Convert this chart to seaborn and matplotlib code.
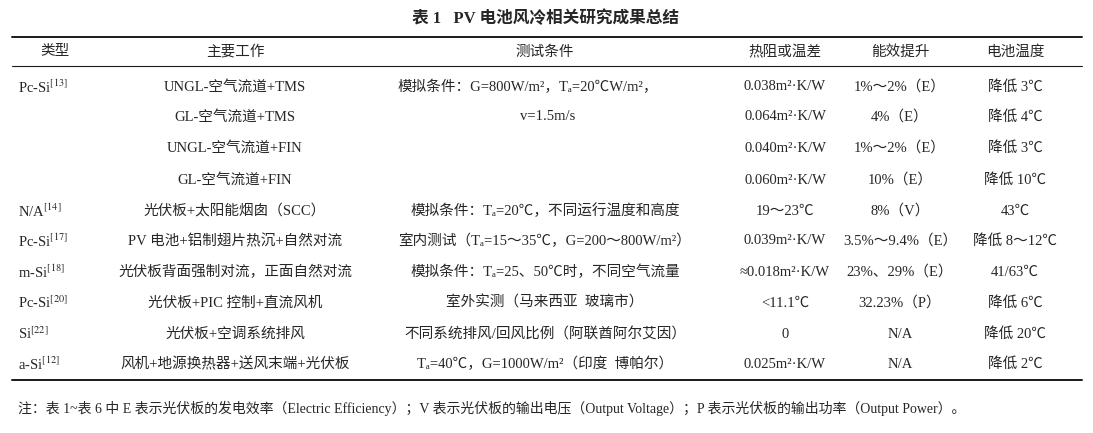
import matplotlib
matplotlib.use("Agg")
import matplotlib.pyplot as plt
import seaborn as sns

sns.set_theme(style="white")
plt.rcParams['font.family'] = ['Liberation Serif', 'Noto Sans CJK SC', 'DejaVu Sans']
plt.rcParams['mathtext.fontset'] = 'stix'

title = "表 1   PV 电池风冷相关研究成果总结"
headers = ["类型", "主要工作", "测试条件", "热阻或温差", "能效提升", "电池温度"]
types = ["Pc-Si$^{[13]}$", "", "", "", "N/A$^{[14]}$", "Pc-Si$^{[17]}$", "m-Si$^{[18]}$",
         "Pc-Si$^{[20]}$", "Si$^{[22]}$", "a-Si$^{[12]}$"]
works = ["UNGL-空气流道+TMS", "GL-空气流道+TMS", "UNGL-空气流道+FIN", "GL-空气流道+FIN",
         "光伏板+太阳能烟囱（SCC）", "PV 电池+铝制翅片热沉+自然对流", "光伏板背面强制对流，正面自然对流",
         "光伏板+PIC 控制+直流风机", "光伏板+空调系统排风", "风机+地源换热器+送风末端+光伏板"]
conds = ["模拟条件：G=800W/m²，Tₐ=20℃W/m²，", "v=1.5m/s", "", "",
         "模拟条件：Tₐ=20℃，不同运行温度和高度",
         "室内测试（Tₐ=15～35℃，G=200～800W/m²）",
         "模拟条件：Tₐ=25、50℃时，不同空气流量",
         "室外实测（马来西亚  玻璃市）", "不同系统排风/回风比例（阿联酋阿尔艾因）",
         "Tₐ=40℃，G=1000W/m²（印度  博帕尔）"]
resist = ["0.038m²·K/W", "0.064m²·K/W", "0.040m²·K/W", "0.060m²·K/W", "19～23℃",
          "0.039m²·K/W", "≈0.018m²·K/W", "<11.1℃", "0", "0.025m²·K/W"]
effic = ["1%～2%（E）", "4%（E）", "1%～2%（E）", "10%（E）", "8%（V）",
         "3.5%～9.4%（E）", "23%、29%（E）", "32.23%（P）", "N/A", "N/A"]
temps = ["降低 3℃", "降低 4℃", "降低 3℃", "降低 10℃", "43℃", "降低 8～12℃", "41/63℃",
         "降低 6℃", "降低 20℃", "降低 2℃"]
note = ("注：表 1~表 6 中 E 表示光伏板的发电效率（Electric Efficiency）；V 表示光伏板的输出电压（Output Voltage）；"
        "P 表示光伏板的输出功率（Output Power）。")

W, H = 1093, 433
fig = plt.figure(figsize=(W/100, H/100), dpi=100)
ax = fig.add_axes([0, 0, 1, 1])
ax.set_xlim(0, W); ax.set_ylim(H, 0); ax.axis('off')
fs = 10.5

ax.text(546, 19, title, ha='center', va='center', fontsize=12, fontweight='bold')
ax.plot([12, 1082], [37, 37], color='k', lw=1.4)
ax.plot([12, 1082], [66, 66], color='k', lw=0.8)
ax.plot([12, 1082], [380, 380], color='k', lw=1.4)

cx = [55, 235, 545, 785, 900, 1015]
for x, h in zip(cx, headers):
    ax.text(x, 52, h, ha='center', va='center', fontsize=fs)

ys = [87, 117, 148, 180, 211, 241, 272, 303, 334, 364]
for i, y in enumerate(ys):
    ax.text(18, y, types[i], ha='left', va='center', fontsize=fs)
    ax.text(cx[1], y, works[i], ha='center', va='center', fontsize=fs)
    if i == 0:
        ax.text(398, y, conds[i], ha='left', va='center', fontsize=fs)
    elif i == 1:
        ax.text(520, y, conds[i], ha='left', va='center', fontsize=fs)
    else:
        ax.text(cx[2], y, conds[i], ha='center', va='center', fontsize=fs)
    ax.text(cx[3], y, resist[i], ha='center', va='center', fontsize=fs)
    ax.text(cx[4], y, effic[i], ha='center', va='center', fontsize=fs)
    ax.text(cx[5], y, temps[i], ha='center', va='center', fontsize=fs)

ax.text(18, 408, note, ha='left', va='center', fontsize=10)
fig.savefig("out.png", dpi=100)
